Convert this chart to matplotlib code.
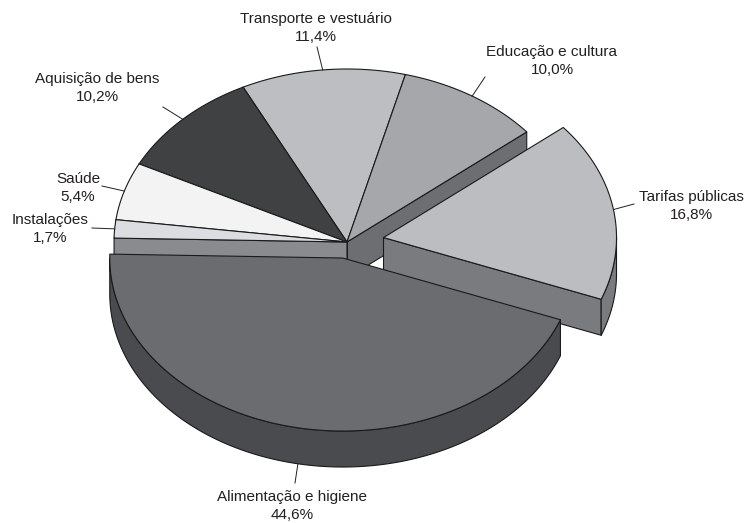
import matplotlib.pyplot as plt
import numpy as np
from matplotlib.patches import Polygon

# Data
labels = ['Alimentação e higiene', 'Tarifas públicas', 'Educação e cultura',
          'Transporte e vestuário', 'Aquisição de bens', 'Saúde', 'Instalações']
values = [44.6, 16.8, 10.0, 11.4, 10.2, 5.4, 1.7]
top_colors = ['#6b6c70', '#bcbdc1', '#a6a7aa', '#bdbec1', '#404143', '#f3f3f3', '#dcdde0']
side_colors = ['#4a4b4e', '#7a7b7f', '#6d6e71', '#7f8083', '#2c2d2f', '#a9a9aa', '#8a8b8e']

# Pie geometry (pixel space, y pointing down)
cx, cy = 347, 242
rx, ry = 233, 173
depth = 36
start_angle = 178.7
explode = [22, 37, 0, 0, 0, 0, 0]

# Label placement: text block centres and leader line ends
text_pos = [(292, 506), (691, 206), (552, 61), (316, 28), (97, 88), (78, 188), (50, 229)]
leader_end = [(295, 483), (634, 204), (485, 77), (317, 47), (163, 107), (102, 186), (92, 228)]

edge = dict(edgecolor='#1a1a1a', linewidth=0.8, joinstyle='round')


def rim(ox, oy, t, dz=0.0):
    t = np.radians(t)
    return np.column_stack([ox + rx * np.cos(t), oy - ry * np.sin(t) + dz])


fig = plt.figure(figsize=(7.48, 5.23), dpi=100)
ax = fig.add_axes([0, 0, 1, 1])
ax.set_xlim(0, 748)
ax.set_ylim(523, 0)
ax.axis('off')

spans = np.array(values) / sum(values) * 360
t_start = start_angle + np.concatenate([[0], np.cumsum(spans)[:-1]])
t_end = t_start + spans
mids = (t_start + t_end) / 2

# Draw slices back to front
order = np.argsort(-np.sin(np.radians(mids)))
for i in order:
    t1, t2, m = t_start[i], t_end[i], mids[i]
    ox = cx + explode[i] * np.cos(np.radians(m))
    oy = cy - explode[i] * np.sin(np.radians(m)) * ry / rx

    # radial side faces that point towards the viewer
    for t, visible in ((t1, np.cos(np.radians(t1)) > 0), (t2, np.cos(np.radians(t2)) < 0)):
        if visible:
            p_top = rim(ox, oy, [t])[0]
            face = [(ox, oy), p_top, (p_top[0], p_top[1] + depth), (ox, oy + depth)]
            ax.add_patch(Polygon(face, closed=True, facecolor=side_colors[i], **edge))

    # curved outer side on the front half
    for k in (-1, 0, 1):
        lo, hi = max(t1, 180 + 360 * k), min(t2, 360 + 360 * k)
        if hi > lo:
            arc = np.linspace(lo, hi, 120)
            face = np.vstack([rim(ox, oy, arc), rim(ox, oy, arc[::-1], depth)])
            ax.add_patch(Polygon(face, closed=True, facecolor=side_colors[i], **edge))

    # top face
    arc = np.linspace(t1, t2, 200)
    face = np.vstack([[ox, oy], rim(ox, oy, arc)])
    ax.add_patch(Polygon(face, closed=True, facecolor=top_colors[i], **edge))

# Labels with leader lines
for i, name in enumerate(labels):
    m = mids[i]
    ox = cx + explode[i] * np.cos(np.radians(m))
    oy = cy - explode[i] * np.sin(np.radians(m)) * ry / rx
    dz = depth if np.sin(np.radians(m)) < -0.5 else 0
    anchor = rim(ox, oy, [m], dz)[0]
    ax.plot([anchor[0], leader_end[i][0]], [anchor[1], leader_end[i][1]],
            color='#231f20', linewidth=0.7)
    pct = f'{values[i]:.1f}'.replace('.', ',') + '%'
    ax.text(text_pos[i][0], text_pos[i][1], f'{name}\n{pct}', ha='center', va='center',
            multialignment='center', linespacing=1.45, fontsize=11,
            family='Liberation Sans', color='#231f20')

fig.savefig('out.png', dpi=100, facecolor='white')
